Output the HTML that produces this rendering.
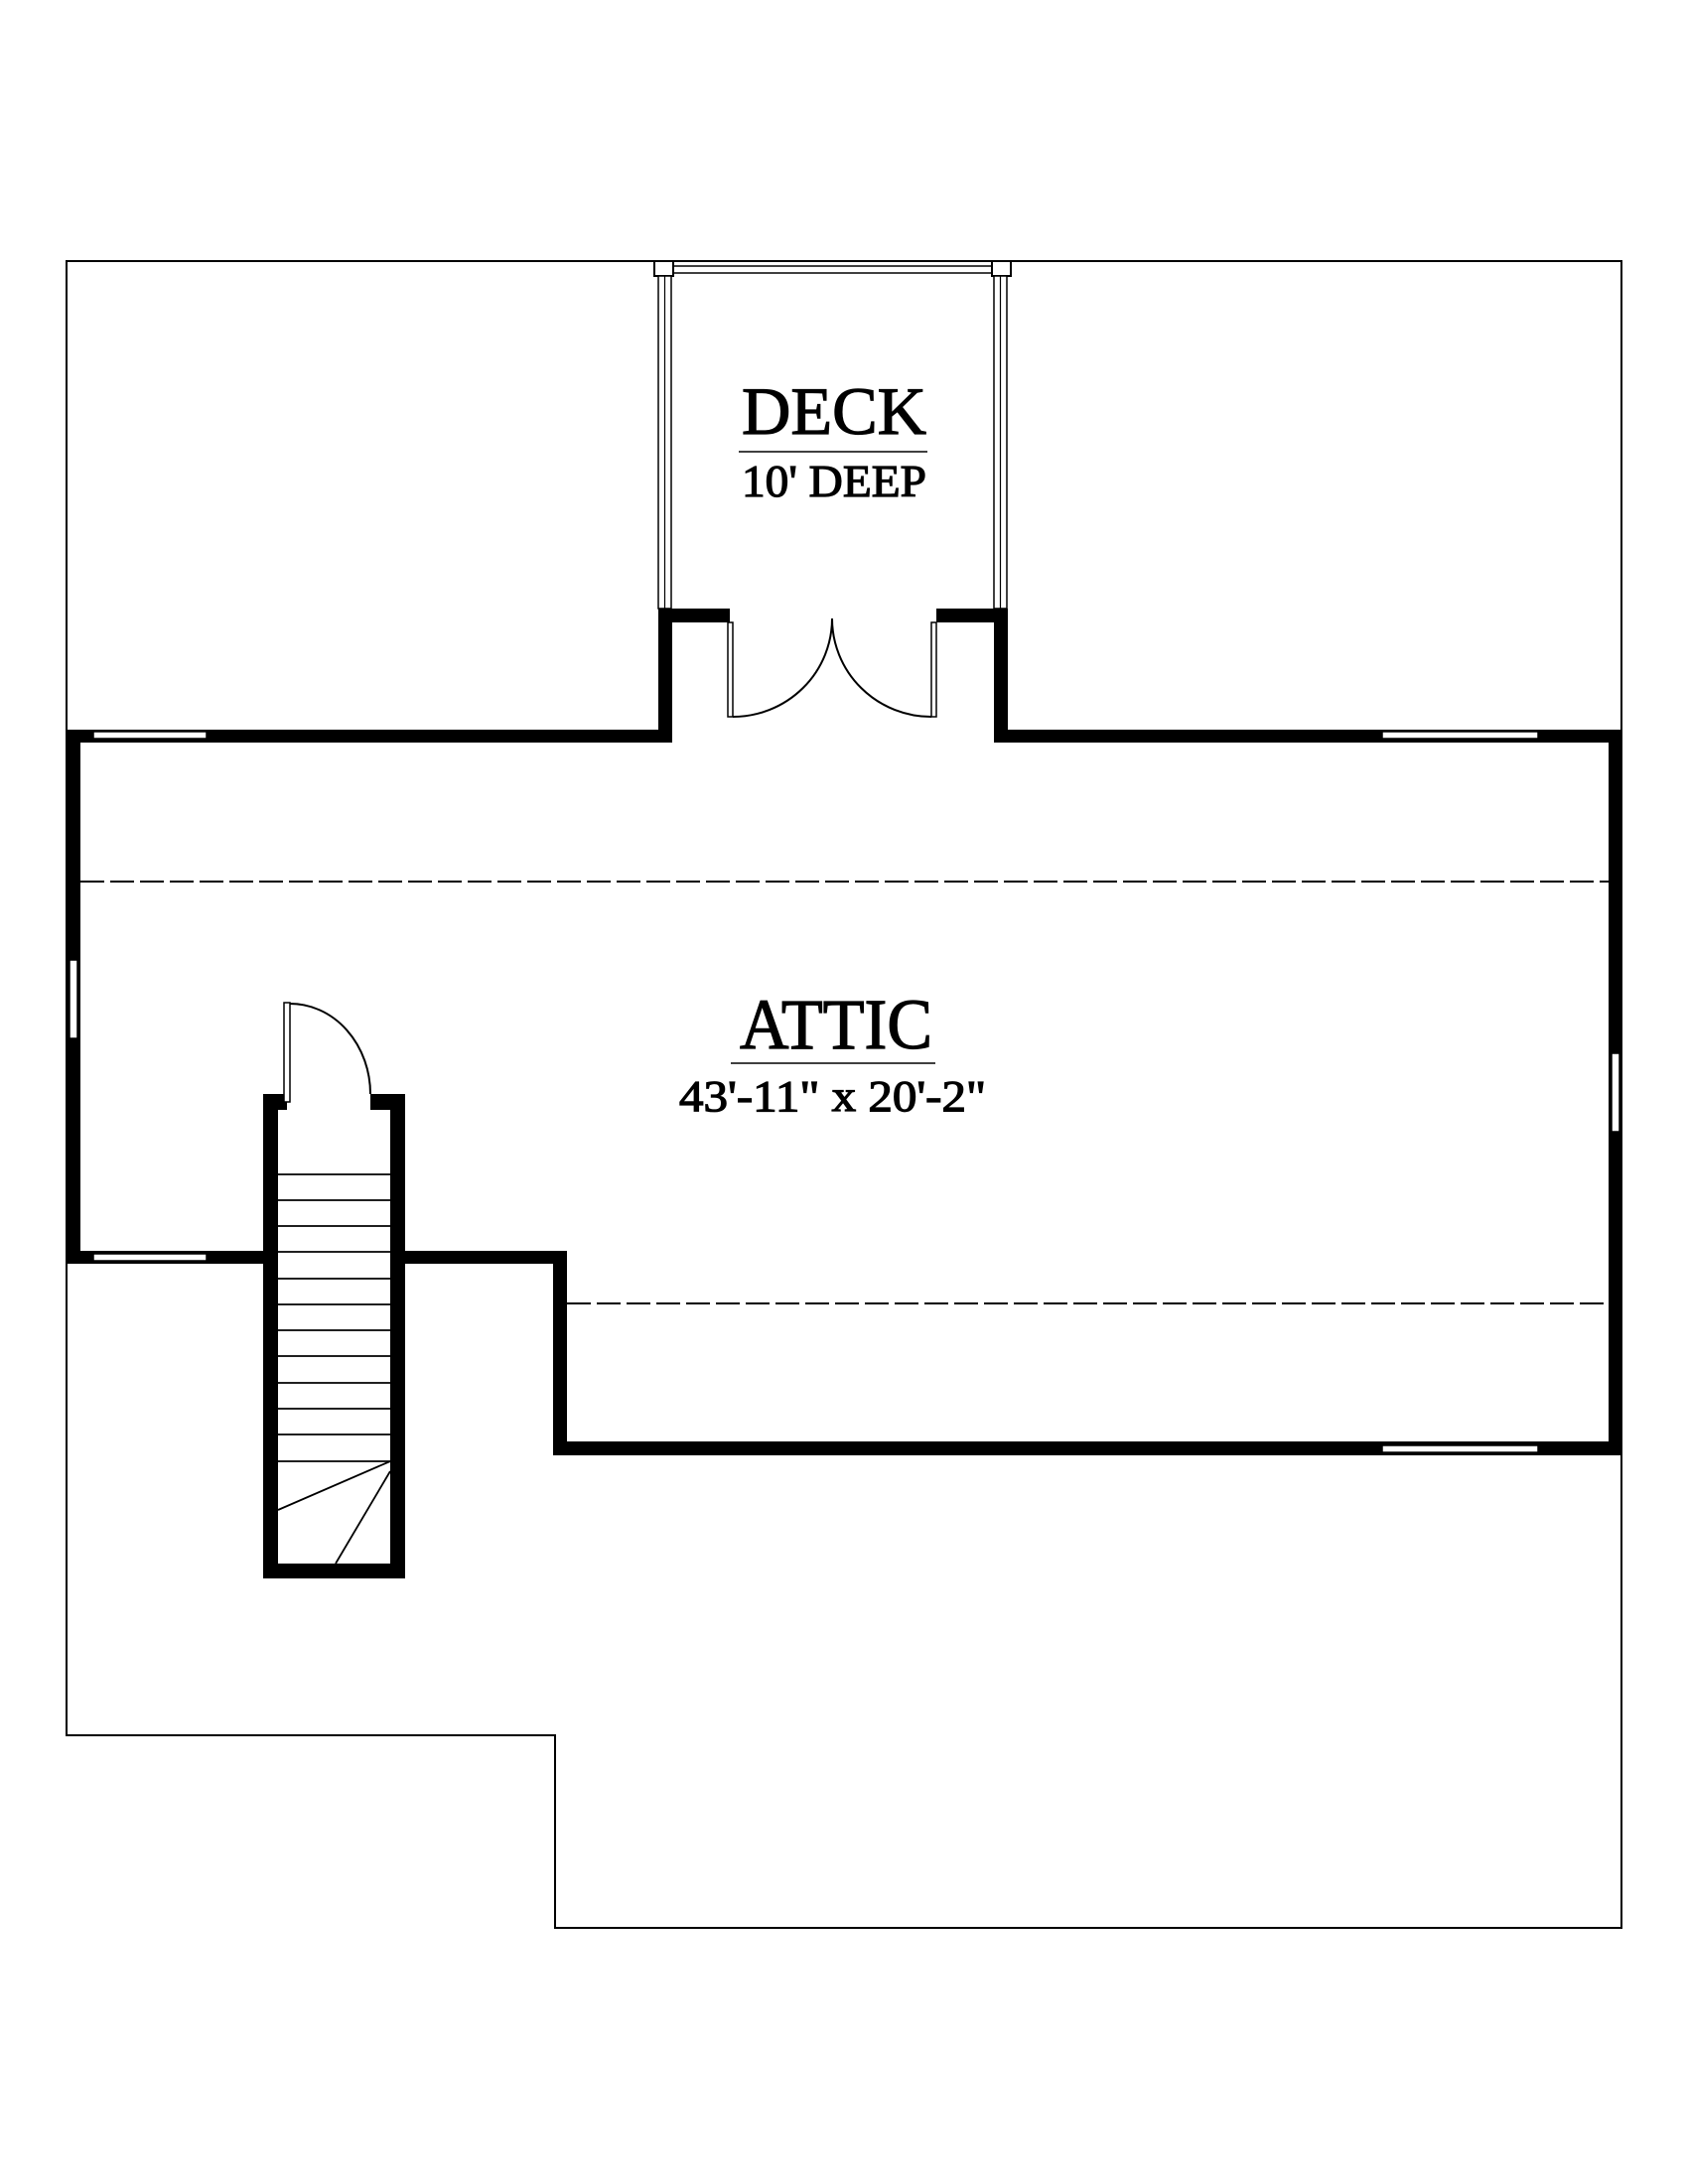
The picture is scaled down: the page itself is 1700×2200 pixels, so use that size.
<!DOCTYPE html>
<html><head><meta charset="utf-8"><style>
html,body{margin:0;padding:0;background:#fff;}
svg{display:block;}
text{font-family:"Liberation Serif",serif;fill:#000;stroke:#000;stroke-width:1.2;}
</style></head><body>
<svg width="1700" height="2200" viewBox="0 0 1700 2200" xmlns="http://www.w3.org/2000/svg">
<rect width="1700" height="2200" fill="#fff"/>
<polygon points="67,263 1633,263 1633,1942 559,1942 559,1748 67,1748" fill="none" stroke="#000" stroke-width="2"/>
<rect x="678" y="268" width="321" height="7" fill="#fff" stroke="#000" stroke-width="1.5"/>
<rect x="659" y="263" width="19" height="15" fill="#fff" stroke="#000" stroke-width="2"/>
<rect x="999" y="263" width="19" height="15" fill="#fff" stroke="#000" stroke-width="2"/>
<rect x="663" y="278" width="13" height="335" fill="#fff" stroke="#000" stroke-width="1.5"/>
<line x1="669.5" y1="278" x2="669.5" y2="613" stroke="#000" stroke-width="1.2"/>
<rect x="1001" y="278" width="13" height="335" fill="#fff" stroke="#000" stroke-width="1.5"/>
<line x1="1007.5" y1="278" x2="1007.5" y2="613" stroke="#000" stroke-width="1.2"/>
<g fill="#000">
<rect x="663" y="613" width="72" height="14"/>
<rect x="663" y="613" width="14" height="135"/>
<rect x="943" y="613" width="72" height="14"/>
<rect x="1001" y="613" width="14" height="135"/>
<rect x="67" y="735" width="610" height="13"/>
<rect x="1001" y="735" width="632" height="13"/>
<rect x="67" y="735" width="14" height="538"/>
<rect x="1620" y="735" width="13" height="731"/>
<rect x="67" y="1260" width="198" height="13"/>
<rect x="408" y="1260" width="163" height="13"/>
<rect x="557" y="1260" width="14" height="206"/>
<rect x="557" y="1452" width="1076" height="14"/>
<rect x="265" y="1102" width="15" height="488"/>
<rect x="393" y="1102" width="15" height="488"/>
<rect x="265" y="1575" width="143" height="15"/>
<rect x="265" y="1102" width="24" height="16"/>
<rect x="373" y="1102" width="35" height="16"/>
</g>
<g fill="#fff" stroke="#000" stroke-width="1.5">
<rect x="94" y="737" width="114" height="7"/>
<rect x="1392" y="737" width="157" height="7"/>
<rect x="94" y="1263" width="114" height="7"/>
<rect x="1392" y="1456" width="157" height="7"/>
<rect x="70" y="967" width="8" height="79"/>
<rect x="1623" y="1061" width="8" height="79"/>
</g>
<rect x="733" y="627" width="5" height="95" fill="#fff" stroke="#000" stroke-width="1.5"/>
<rect x="938" y="627" width="5" height="95" fill="#fff" stroke="#000" stroke-width="1.5"/>
<path d="M738,722 A100,99 0 0 0 838,623" fill="none" stroke="#000" stroke-width="2"/>
<path d="M938,722 A100,99 0 0 1 838,623" fill="none" stroke="#000" stroke-width="2"/>
<rect x="286" y="1010" width="6" height="100" fill="#fff" stroke="#000" stroke-width="1.5"/>
<path d="M292,1011 A81,91 0 0 1 373,1102" fill="none" stroke="#000" stroke-width="2"/>
<g stroke="#000" stroke-width="1.8">
<line x1="280" y1="1183" x2="393" y2="1183"/>
<line x1="280" y1="1209" x2="393" y2="1209"/>
<line x1="280" y1="1235" x2="393" y2="1235"/>
<line x1="280" y1="1261" x2="393" y2="1261"/>
<line x1="280" y1="1288" x2="393" y2="1288"/>
<line x1="280" y1="1314" x2="393" y2="1314"/>
<line x1="280" y1="1340" x2="393" y2="1340"/>
<line x1="280" y1="1366" x2="393" y2="1366"/>
<line x1="280" y1="1393" x2="393" y2="1393"/>
<line x1="280" y1="1419" x2="393" y2="1419"/>
<line x1="280" y1="1445" x2="393" y2="1445"/>
<line x1="280" y1="1472" x2="393" y2="1472"/>
<line x1="393" y1="1472" x2="280" y2="1521"/>
<line x1="393" y1="1482" x2="338" y2="1575"/>
</g>
<line x1="81" y1="888" x2="1620" y2="888" stroke="#000" stroke-width="2" stroke-dasharray="24,6"/>
<line x1="571" y1="1313" x2="1620" y2="1313" stroke="#000" stroke-width="2" stroke-dasharray="24,6"/>
<text x="747" y="437" font-size="68" textLength="186" lengthAdjust="spacingAndGlyphs">DECK</text>
<line x1="744" y1="455" x2="934" y2="455" stroke="#000" stroke-width="1.5"/>
<text x="747" y="500" font-size="45" textLength="186" lengthAdjust="spacingAndGlyphs">10' DEEP</text>
<text x="745" y="1056" font-size="72" textLength="194" lengthAdjust="spacingAndGlyphs">ATTIC</text>
<line x1="736" y1="1071" x2="942" y2="1071" stroke="#000" stroke-width="1.5"/>
<text x="684" y="1119" font-size="44" textLength="309" lengthAdjust="spacingAndGlyphs">43'-11" x 20'-2"</text>
</svg>
</body></html>
